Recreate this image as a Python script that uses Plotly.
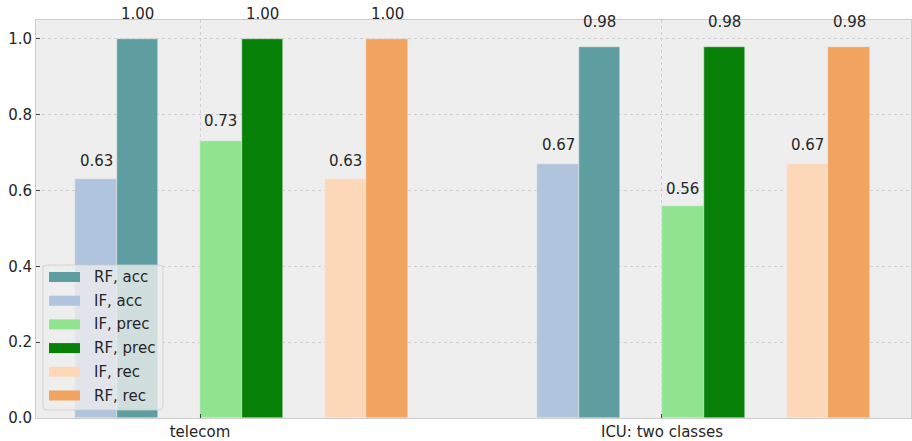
import plotly.graph_objects as go

# ---- data ----
groups = ["telecom", "ICU: two classes"]
series_names = ["IF, acc", "RF, acc", "IF, prec", "RF, prec", "IF, rec", "RF, rec"]
if_acc = [0.63, 0.67]
rf_acc = [1.00, 0.98]
if_prec = [0.73, 0.56]
rf_prec = [1.00, 0.98]
if_rec = [0.63, 0.67]
rf_rec = [1.00, 0.98]
series_values = [if_acc, rf_acc, if_prec, rf_prec, if_rec, rf_rec]
colors = ["#b0c4de", "#5f9ea0", "#90e490", "#078007", "#fdd8b8", "#f2a35f"]
# bar offsets from each group centre, in bar widths
offsets = [-2.5, -1.5, 0.5, 1.5, 3.5, 4.5]
legend_order = ["RF, acc", "IF, acc", "IF, prec", "RF, prec", "IF, rec", "RF, rec"]
y_ticks = [0.0, 0.2, 0.4, 0.6, 0.8, 1.0]

W, H = 912, 441
ML, MR, MT, MB = 36, 1, 20, 23
PW, PH = W - ML - MR, H - MT - MB
BAR_W = 0.09
TXT = "#262626"
FONT = "DejaVu Sans"

fig = go.Figure()
annotations = []
for name, vals, col, off in zip(series_names, series_values, colors, offsets):
    xs = [i + off * BAR_W for i in range(len(groups))]
    fig.add_trace(go.Bar(
        x=xs, y=vals, width=BAR_W, name=name, showlegend=False,
        marker=dict(color=col, line=dict(color="#eeeeee", width=0.5)),
    ))
    for x, v in zip(xs, vals):
        annotations.append(dict(
            x=x, y=v, xref="x", yref="y", text=f"{v:.2f}", showarrow=False,
            yanchor="middle", yshift=7 + 18 * v,
            font=dict(family=FONT, size=15, color=TXT),
        ))


def px_x(p):
    return (p - ML) / PW


def px_y(p):
    return (H - MB - p) / PH


# legend drawn as a framed box with colour swatches
shapes = []
lx0, lx1, ly0, ly1, r = 43, 163, 265, 410, 4
path = (
    f"M{px_x(lx0 + r)},{px_y(ly0)} L{px_x(lx1 - r)},{px_y(ly0)} "
    f"Q{px_x(lx1)},{px_y(ly0)} {px_x(lx1)},{px_y(ly0 + r)} "
    f"L{px_x(lx1)},{px_y(ly1 - r)} Q{px_x(lx1)},{px_y(ly1)} {px_x(lx1 - r)},{px_y(ly1)} "
    f"L{px_x(lx0 + r)},{px_y(ly1)} Q{px_x(lx0)},{px_y(ly1)} {px_x(lx0)},{px_y(ly1 - r)} "
    f"L{px_x(lx0)},{px_y(ly0 + r)} Q{px_x(lx0)},{px_y(ly0)} {px_x(lx0 + r)},{px_y(ly0)} Z"
)
shapes.append(dict(type="path", path=path, xref="paper", yref="paper",
                   fillcolor="rgba(238,238,238,0.8)",
                   line=dict(color="rgba(204,204,204,0.8)", width=1), layer="above"))
color_of = dict(zip(series_names, colors))
for k, name in enumerate(legend_order):
    cy = 277 + k * 23.7
    shapes.append(dict(type="rect", xref="paper", yref="paper",
                       x0=px_x(49), x1=px_x(80), y0=px_y(cy - 5), y1=px_y(cy + 5),
                       fillcolor=color_of[name], line=dict(width=0), layer="above"))
    annotations.append(dict(x=px_x(92), y=px_y(cy), xref="paper", yref="paper",
                            text=name, showarrow=False, xanchor="left", yanchor="middle",
                            font=dict(family=FONT, size=15, color=TXT)))

grid = dict(showgrid=True, gridcolor="#cfcfcf", gridwidth=1, griddash="dot",
            showline=True, linecolor="#cccccc", linewidth=1, mirror=True,
            ticks="inside", ticklen=4, tickcolor="#444444", zeroline=False,
            tickfont=dict(family=FONT, size=15, color=TXT))

fig.update_layout(
    width=W, height=H,
    margin=dict(l=ML, r=MR, t=MT, b=MB, pad=0),
    paper_bgcolor="white", plot_bgcolor="#eeeeee",
    barmode="overlay", bargap=0,
    xaxis=dict(range=[-0.355, 1.539], tickmode="array",
               tickvals=list(range(len(groups))), ticktext=groups, **grid),
    yaxis=dict(range=[0, 1.05], tickmode="array", tickvals=y_ticks,
               tickformat=".1f", **grid),
    annotations=annotations, shapes=shapes,
    font=dict(family=FONT, size=15, color=TXT),
)

fig.write_html("out.html")
